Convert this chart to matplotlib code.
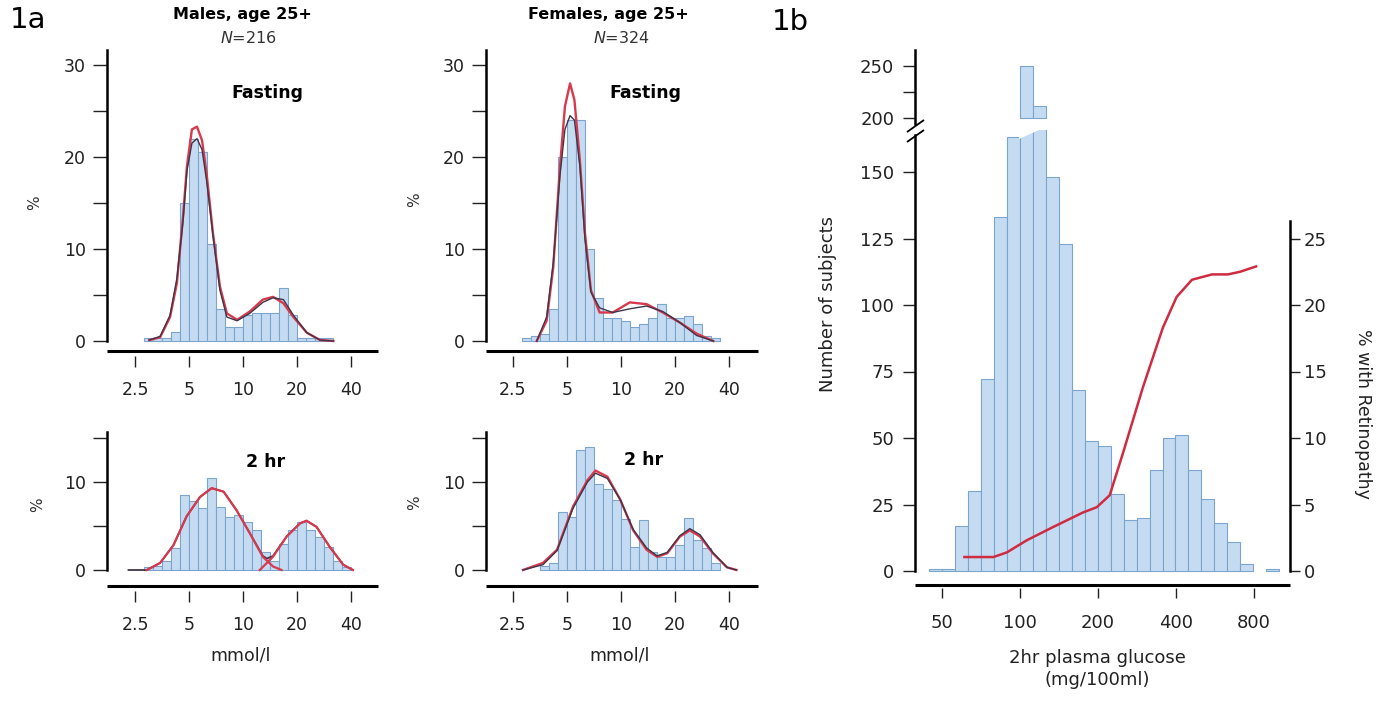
import numpy as np
from matplotlib import pyplot as plt
from matplotlib.lines import Line2D
from matplotlib.patches import Polygon
from matplotlib.ticker import NullLocator

W, H = 1388, 706
plt.rcParams['font.family'] = ['DejaVu Sans']
plt.rcParams['mathtext.fontset'] = 'dejavusans'

BAR_FC = '#c4dbf2'
BAR_EC = '#7ca5ce'
RED = '#d8394d'
DARK = '#3e3649'

# Figure 1a : classes de 0.05 en log10 (mmol/l), hauteurs en %
BIN_LOG = 0.05
xticks_1a = [2.5, 5, 10, 20, 40]
xlabels_1a = ['2.5', '5', '10', '20', '40']

fast_m_first = 0.45
fast_m_pct = [0.3, 0.3, 0.3, 1.0, 15, 22, 20.5, 10.5, 3.5, 1.5, 1.5, 2.8, 3.0, 3.0,
              3.0, 5.8, 2.8, 0.3, 0.3, 0.3, 0.3]
fast_m_x = [3.0, 3.45, 3.92, 4.28, 4.63, 4.87, 5.19, 5.54, 5.91, 6.26, 6.8, 7.44, 8.13,
            9.27, 10.9, 12.9, 14.7, 16.8, 19.1, 22.7, 26.9, 31.9]
fast_m_fit = [0.1, 0.4, 2.6, 6.3, 13.5, 19.0, 23.0, 23.3, 21.8, 18.3, 11.7, 5.9, 3.0,
              2.3, 3.2, 4.5, 4.8, 4.1, 2.6, 0.9, 0.1, 0.0]
fast_m_kde = [0.1, 0.5, 2.8, 6.8, 13.0, 18.5, 21.5, 22.0, 20.8, 17.5, 11.5, 5.5, 2.6,
              2.2, 3.0, 4.2, 4.7, 4.5, 2.8, 0.9, 0.1, 0.0]

fast_f_first = 0.45
fast_f_pct = [0.3, 0.5, 0.8, 3.5, 20, 24, 24, 10, 4.7, 2.5, 2.5, 2.2, 1.5, 1.8, 2.5,
              4.0, 2.5, 2.5, 2.7, 1.8, 0.5, 0.3]
fast_f_x = [3.39, 3.85, 4.19, 4.57, 4.87, 5.2, 5.5, 5.9, 6.3, 6.8, 7.6, 9.0, 11.2, 13.9,
            17.1, 21.3, 26.4, 32.7]
fast_f_fit = [0.0, 2.2, 8.0, 19.0, 25.5, 28.0, 26.2, 19.6, 11.7, 5.5, 3.1, 3.1, 4.2,
              4.0, 3.1, 2.0, 0.8, 0.0]
fast_f_kde = [0.0, 2.6, 8.5, 18.0, 23.0, 24.5, 24.0, 19.0, 11.0, 5.3, 3.6, 3.1, 3.5,
              3.8, 3.2, 2.0, 0.6, 0.0]

two_m_first = 0.45
two_m_pct = [0.3, 0.5, 1.0, 2.5, 8.5, 7.8, 7.0, 10.4, 7.2, 6.0, 6.3, 5.5, 4.5, 2.0,
             1.0, 3.0, 4.5, 5.4, 4.5, 3.7, 2.6, 1.0, 0.3]
two_m_fit1_x = [2.91, 3.45, 4.09, 4.85, 5.76, 6.69, 7.8, 9.2, 10.9, 12.9, 14.7, 16.4]
two_m_fit1 = [0.0, 0.8, 2.8, 6.1, 8.3, 9.3, 8.9, 6.8, 4.2, 1.5, 0.4, 0.0]
two_m_fit2_x = [12.4, 14.7, 17.5, 20.8, 22.6, 25.7, 30.5, 36.2, 41.0]
two_m_fit2 = [0.0, 1.5, 3.8, 5.3, 5.6, 4.9, 2.6, 0.6, 0.0]
two_m_kde_x = [2.3, 2.91, 3.45, 4.09, 4.85, 5.76, 6.69, 7.8, 9.2, 10.9, 12.9, 13.6,
               14.7, 17.5, 20.8, 22.6, 25.7, 30.5, 36.2, 41.0]
two_m_kde = [0.0, 0.0, 0.8, 2.8, 6.1, 8.3, 9.3, 8.9, 6.8, 4.2, 1.6, 1.3, 1.6, 3.8, 5.3,
             5.6, 4.9, 2.6, 0.6, 0.0]

two_f_first = 0.55
two_f_pct = [0.5, 0.8, 6.6, 6.0, 13.6, 14.0, 9.8, 9.2, 8.0, 5.8, 2.6, 5.7, 2.0, 1.5,
             1.5, 2.8, 5.9, 3.4, 2.5, 0.8]
two_f_x = [2.84, 3.67, 4.4, 5.4, 6.5, 7.2, 8.4, 9.9, 11.7, 13.9, 15.9, 18.1, 21.3, 24.2,
           27.6, 32.5, 39.0, 44.0]
two_f_fit = [0.0, 0.8, 2.3, 7.2, 10.2, 11.3, 10.6, 8.0, 4.5, 2.3, 1.5, 1.9, 3.8, 4.5,
             3.8, 1.9, 0.3, 0.0]
two_f_kde = [0.0, 0.6, 2.2, 7.0, 10.0, 11.0, 10.4, 8.0, 4.6, 2.5, 1.6, 2.0, 3.9, 4.7,
             4.0, 2.0, 0.3, 0.0]

# Figure 1b : glycémie 2h (mg/100ml), classes de 0.05 en log10
glu_first = 1.65
glu_counts = [0.8, 0.8, 17, 30, 72, 133, 163, 250, 212, 148, 123, 68, 49, 47, 29, 19,
              20, 38, 50, 51, 38, 27, 18, 11, 2.6, 0, 0.6]
xticks_1b = [50, 100, 200, 400, 800]
retino_glu = [61, 79, 89, 106, 134, 175, 198, 222, 250, 298, 356, 402, 461, 551, 635,
              707, 815]
retino_pct = [1.05, 1.05, 1.4, 2.3, 3.3, 4.4, 4.8, 5.7, 8.9, 13.8, 18.3, 20.6, 21.9,
              22.3, 22.3, 22.5, 22.9]

fig = plt.figure(figsize=(W / 100, H / 100), dpi=100)


def px_axes(left, top, right, bottom):
    return fig.add_axes([left / W, 1 - bottom / H, (right - left) / W, (bottom - top) / H])


def fig_line(xs, ys, lw=2.2):
    fig.add_artist(Line2D([x / W for x in xs], [1 - y / H for y in ys], color='black',
                          lw=lw, solid_capstyle='butt'))


def fig_text(x, y, s, **kw):
    kw.setdefault('ha', 'center')
    kw.setdefault('va', 'center')
    fig.text(x / W, 1 - y / H, s, **kw)


def draw_bars(ax, first, values, bottom=0):
    values = np.asarray(values, dtype=float)
    edges = 10 ** (first + BIN_LOG * np.arange(len(values) + 1))
    keep = values > 0
    ax.bar(edges[:-1][keep], values[keep], width=np.diff(edges)[keep], bottom=bottom,
           align='edge', color=BAR_FC, edgecolor=BAR_EC, lw=0.8)


def hist_panel(left, top, right, bottom, zero_px, ppu, five_px, first, pct, curves,
               yticks, ylabels):
    ax = px_axes(left, top, right, bottom)
    ax.set_xscale('log')
    ax.set_xlim(5 * 2 ** ((left - five_px) / 54), 5 * 2 ** ((right - five_px) / 54))
    ymax = (zero_px - top) / ppu
    ax.set_ylim((zero_px - bottom) / ppu, ymax)
    draw_bars(ax, first, pct)
    for xs, ys, col, lw in curves:
        ax.plot(xs, ys, color=col, lw=lw, solid_joinstyle='round')
    for s in ['top', 'right', 'bottom']:
        ax.spines[s].set_visible(False)
    ax.spines['left'].set_bounds(0, ymax)
    ax.spines['left'].set_linewidth(1.8)
    ax.set_xticks(xticks_1a, labels=xlabels_1a)
    ax.xaxis.set_minor_locator(NullLocator())
    ax.set_yticks(yticks, labels=ylabels)
    ax.tick_params(axis='x', length=8, width=1, pad=10, labelsize=12.5, colors='#222')
    ax.tick_params(axis='y', length=10, width=1, pad=5, labelsize=12.5, colors='#222')
    ax.patch.set_alpha(0)
    return ax


top_ticks = [0, 5, 10, 15, 20, 25, 30]
top_labels = ['0', '', '10', '', '20', '', '30']
bot_ticks = [0, 5, 10, 15]
bot_labels = ['0', '', '10', '']

hist_panel(107, 50, 378, 356, 341, 9.2, 189, fast_m_first, fast_m_pct,
           [(fast_m_x, fast_m_fit, RED, 1.7), (fast_m_x, fast_m_kde, DARK, 1.0)],
           top_ticks, top_labels)
hist_panel(486, 50, 758, 356, 341, 9.2, 567, fast_f_first, fast_f_pct,
           [(fast_f_x, fast_f_fit, RED, 1.7), (fast_f_x, fast_f_kde, DARK, 1.0)],
           top_ticks, top_labels)
hist_panel(107, 432, 378, 591, 570, 8.8, 189, two_m_first, two_m_pct,
           [(two_m_kde_x, two_m_kde, DARK, 1.3), (two_m_fit1_x, two_m_fit1, RED, 1.6),
            (two_m_fit2_x, two_m_fit2, RED, 1.6)],
           bot_ticks, bot_labels)
hist_panel(486, 432, 758, 591, 570, 8.8, 567, two_f_first, two_f_pct,
           [(two_f_x, two_f_fit, RED, 1.7), (two_f_x, two_f_kde, DARK, 1.0)],
           bot_ticks, bot_labels)

fig_line([107, 378], [351, 351])
fig_line([486, 758], [351, 351])
fig_line([107, 378], [586, 586])
fig_line([486, 758], [586, 586])

# --- 1b, axe coupé entre ~165 et ~195
glu_xlim = (50 * 2 ** ((915 - 942) / 78), 50 * 2 ** ((1290 - 942) / 78))
ax_lo = px_axes(915, 130, 1290, 588)
ax_lo.set_xscale('log')
ax_lo.set_xlim(*glu_xlim)
lo_ylim = ((571 - 588) / 2.66, (571 - 130) / 2.66)
ax_lo.set_ylim(*lo_ylim)
draw_bars(ax_lo, glu_first, glu_counts)
cut = Polygon([(1019 / W, 1 - 139 / H), (1048 / W, 1 - 126 / H), (1048 / W, 1 - 100 / H),
               (1019 / W, 1 - 100 / H)], closed=True, transform=fig.transFigure,
              facecolor='white', edgecolor='none', zorder=3)
ax_lo.add_patch(cut)
for s in ['top', 'right', 'bottom']:
    ax_lo.spines[s].set_visible(False)
ax_lo.spines['left'].set_bounds(0, (571 - 135) / 2.66)
ax_lo.spines['left'].set_linewidth(1.8)
ax_lo.set_xticks(xticks_1b, labels=[str(v) for v in xticks_1b])
ax_lo.xaxis.set_minor_locator(NullLocator())
ax_lo.set_yticks([0, 25, 50, 75, 100, 125, 150])
ax_lo.tick_params(axis='x', length=7, width=1, pad=12, labelsize=13, colors='#222')
ax_lo.tick_params(axis='y', length=9, width=1, pad=6, labelsize=13, colors='#222')

ax_hi = px_axes(915, 50, 1290, 124)
ax_hi.set_xscale('log')
ax_hi.set_xlim(*glu_xlim)
hi_ylim = (200 - (124 - 118) / 1.04, 200 + (118 - 50) / 1.04)
ax_hi.set_ylim(*hi_ylim)
draw_bars(ax_hi, glu_first, np.clip(np.array(glu_counts) - 200, 0, None), bottom=200)
for s in ['top', 'right', 'bottom']:
    ax_hi.spines[s].set_visible(False)
ax_hi.spines['left'].set_linewidth(1.8)
ax_hi.tick_params(axis='x', which='both', bottom=False, labelbottom=False)
ax_hi.set_yticks([200, 225, 250], labels=['200', '', '250'])
ax_hi.tick_params(axis='y', length=9, width=1, pad=6, labelsize=13, colors='#222')
ax_hi.patch.set_alpha(0)

ax_r = ax_lo.twinx()
ax_r.set_ylim(lo_ylim[0] / 5, lo_ylim[1] / 5)
ax_r.plot(retino_glu, retino_pct, color='#cf2b41', lw=1.8)
for s in ['top', 'left', 'bottom']:
    ax_r.spines[s].set_visible(False)
ax_r.spines['right'].set_bounds(0, 26.3)
ax_r.spines['right'].set_linewidth(1.8)
ax_r.set_yticks([0, 5, 10, 15, 20, 25])
ax_r.tick_params(axis='y', length=7, width=1, pad=3, labelsize=13, colors='#222')

fig_line([915, 1290], [585, 585])
fig_line([907, 924], [132, 120], lw=1.3)
fig_line([907, 924], [142, 130], lw=1.3)

# --- textes
fig_text(28, 20, '1a', fontsize=21)
fig_text(790, 22, '1b', fontsize=21)
fig_text(242, 15, 'Males, age 25+', fontsize=11.5, fontweight='bold')
fig_text(248, 38, r'$\mathit{N}$=216', fontsize=11.5, color='#333')
fig_text(608, 15, 'Females, age 25+', fontsize=11.5, fontweight='bold')
fig_text(621, 38, r'$\mathit{N}$=324', fontsize=11.5, color='#333')
fig_text(267, 93, 'Fasting', fontsize=12.5, fontweight='bold')
fig_text(645, 93, 'Fasting', fontsize=12.5, fontweight='bold')
fig_text(266, 462, '2 hr', fontsize=12.5, fontweight='bold')
fig_text(644, 460, '2 hr', fontsize=12.5, fontweight='bold')
for x, y in [(35, 203), (38, 505), (415, 200), (415, 503)]:
    fig_text(x, y, '%', fontsize=11, rotation=90, color='#333')
fig_text(241, 655, 'mmol/l', fontsize=12.5, color='#222')
fig_text(620, 655, 'mmol/l', fontsize=12.5, color='#222')
fig_text(828, 304, 'Number of subjects', fontsize=13, rotation=90, color='#222')
fig_text(1363, 414, '% with Retinopathy', fontsize=12.5, rotation=270, color='#222')
fig_text(1097, 658, '2hr plasma glucose', fontsize=13, color='#222')
fig_text(1097, 680, '(mg/100ml)', fontsize=13, color='#222')

fig.savefig('out.png', dpi=100)
